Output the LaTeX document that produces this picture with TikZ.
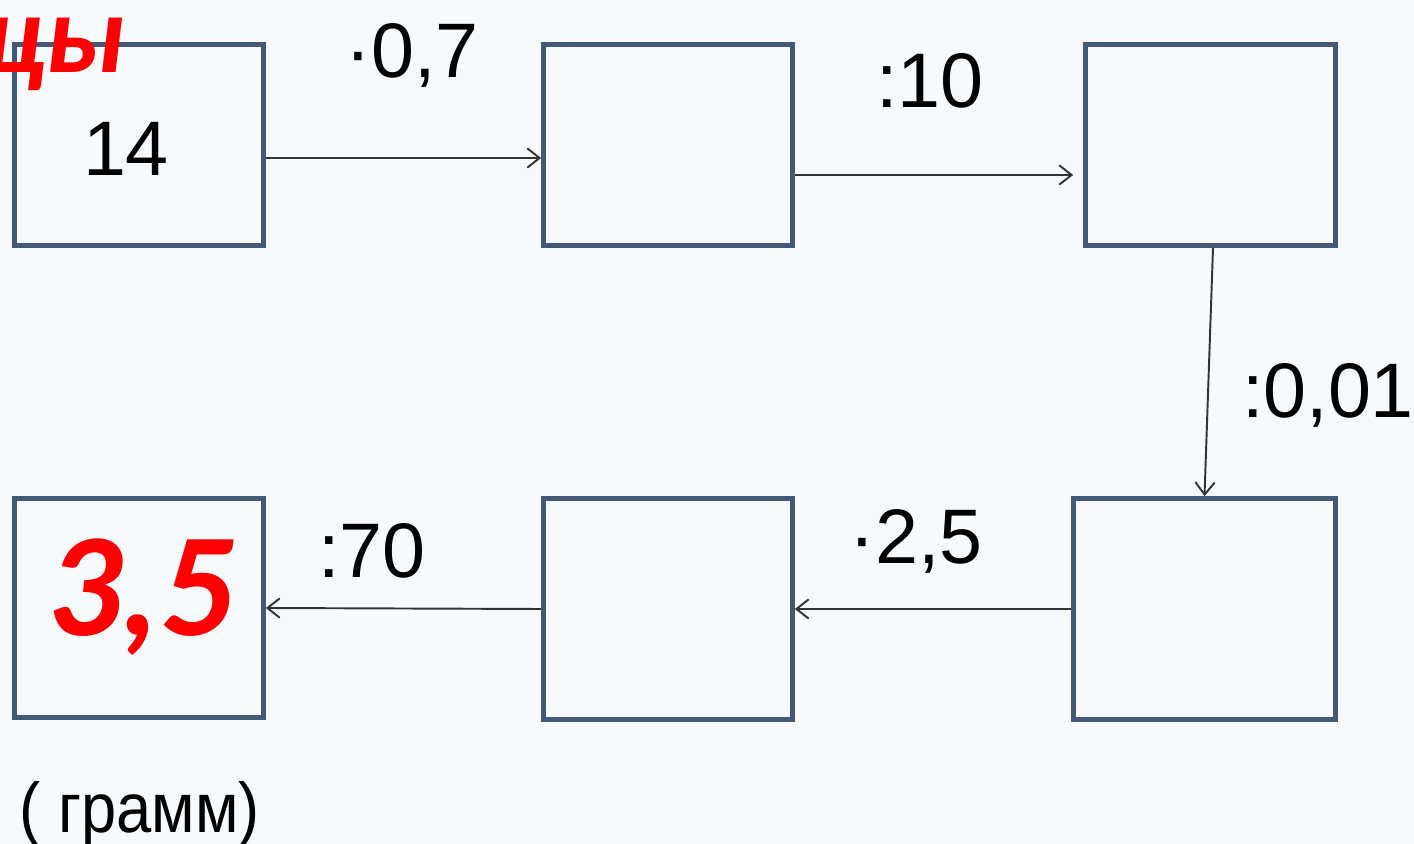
\documentclass[tikz,border=0pt]{standalone}
\usepackage{fontspec}
\setmainfont{Liberation Sans}
\newfontfamily\narrowfont[FakeStretch=0.9]{Liberation Sans}
\newfontfamily\answerfont{Carlito}
\usepackage{xcolor}
\usetikzlibrary{positioning,arrows.meta}

\definecolor{boxblue}{RGB}{68,88,120}
\definecolor{paper}{RGB}{247,250,253}
\definecolor{answerred}{RGB}{255,0,0}

\begin{document}
\begin{tikzpicture}[x=0.02cm, y=-0.02cm,
    block/.style={rectangle, draw=boxblue, line width=2.7pt, fill=paper, inner sep=0pt, minimum width=4.98cm, minimum height=4.02cm},
    tallblock/.style={block, minimum height=4.42cm},
    arrow/.style={-{Straight Barb[length=7pt,width=11pt]}, line width=1.1pt, draw=black!80},
    op/.style={anchor=base, font=\fontsize{44}{50}\selectfont},
    answer/.style={anchor=base, text=answerred, font=\answerfont\bfseries\itshape\fontsize{84}{96}\selectfont}]

    % paper
    \fill[paper] (0,0) rectangle (1414,844);
    \clip (0,0) rectangle (1414,844);

    % top row
    \node[block] (start) at (139,145) {};
    \node[block] (mult) at (668,145) {};
    \node[block, minimum width=5cm] (div) at (1210.5,145) {};

    % bottom row
    \node[tallblock, minimum width=5.24cm] (hund) at (1204.5,609) {};
    \node[tallblock] (twofive) at (668,609) {};
    \node[block, minimum height=4.38cm] (result) at (139,608) {};

    % values
    \node[op] (v14) at (126,176) {14};
    \node[answer] (v35) at (141,635) {3,5};
    \node[answer, anchor=base east, font=\answerfont\bfseries\itshape\fontsize{64}{72}\selectfont] (tail) at (132,73) {цы};
    \node[op, font=\narrowfont\fontsize{40}{46}\selectfont] (unit) at (140,832) {( грамм)};

    % operations
    \node[op] (o1) at (412,78) {·0,7};
    \node[op] (o2) at (930,108) {:10};
    \node[op] (o3) at (1328,418) {:0,01};
    \node[op] (o4) at (916,563) {·2,5};
    \node[op] (o5) at (372,578) {:70};

    \draw[arrow] ([yshift=-0.26cm]start.east) -- ([yshift=-0.26cm]mult.west);
    \draw[arrow] ([yshift=-0.6cm]mult.east) -- ([yshift=-0.6cm, xshift=-0.2cm]div.west);
    \draw[arrow] ([xshift=0.05cm]div.south) -- (hund.north);
    \draw[arrow] (hund.west) -- (twofive.east);
    \draw[arrow] (twofive.west) -- (result.east);
\end{tikzpicture}
\end{document}
